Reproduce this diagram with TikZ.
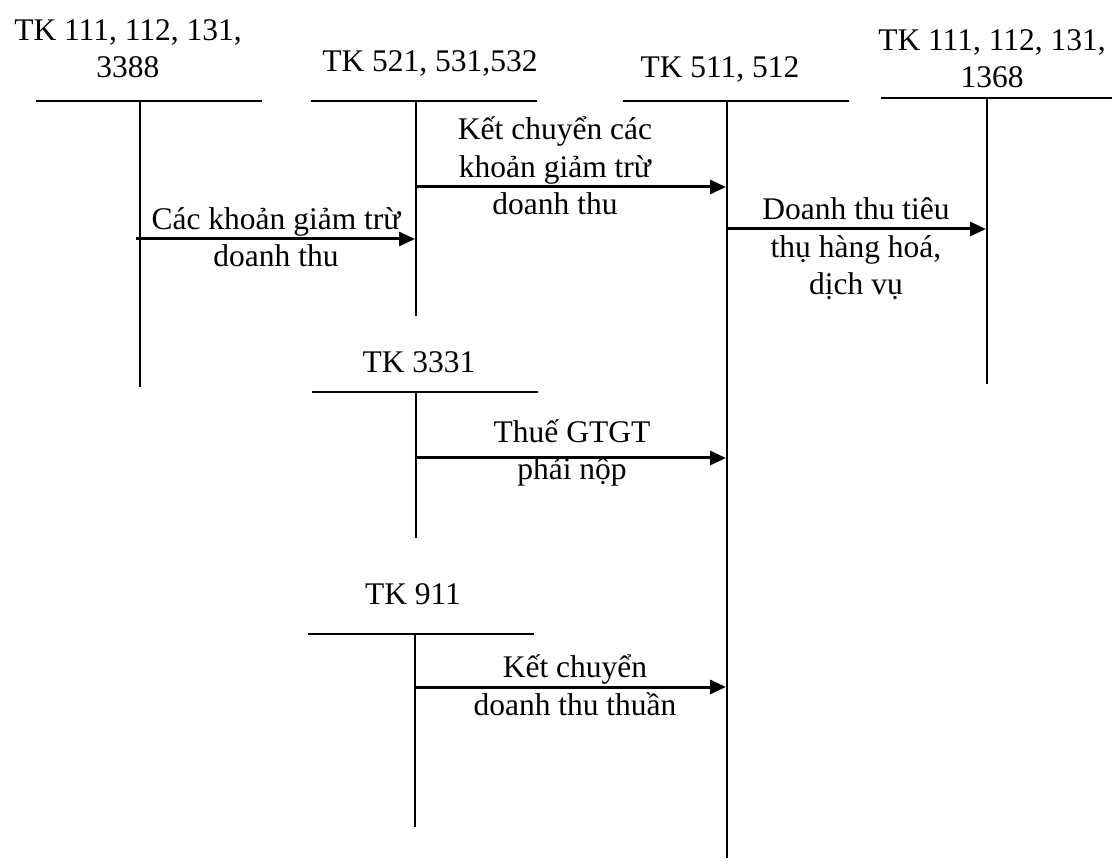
\documentclass[tikz,border=0pt]{standalone}
\usepackage{fontspec}
\setmainfont{Liberation Serif}
\usetikzlibrary{arrows.meta}
\begin{document}
\begin{tikzpicture}[x=1pt,y=-1pt,font=\fontsize{31.5}{37.5}\selectfont,line join=round,
	tk/.style={line width=1.8pt},
	mui/.style={line width=3pt,-{Triangle[length=16pt,width=14pt]}},
	nhan/.style={align=center,anchor=base,inner sep=0pt}]
	\useasboundingbox (0,0) rectangle (1112,866);
	% tai khoan chu T: ten/trai/phai/doc/tren/duoi
	\foreach \n/\l/\r/\v/\t/\d in {a/36/262/140/101/387,b/311/537/416/101/316,c/623/849/727/101/858,d/881/1112/987/98/384,e/312/538/416/392/538,f/308/534/415/634/827}{
		\coordinate (\n top) at (\v,\t);
		\coordinate (\n bot) at (\v,\d);
		\draw[tk] (\l,\t) -- (\r,\t);
		\draw[tk] (\n top) -- (\n bot);
	}
	\node[nhan] (ta) at (128,78) {TK 111, 112, 131,\\3388};
	\node[nhan] (tb) at (430,72) {TK 521, 531,532};
	\node[nhan] (tc) at (720,78) {TK 511, 512};
	\node[nhan] (td) at (992,88) {TK 111, 112, 131,\\1368};
	\node[nhan] (te) at (419,373) {TK 3331};
	\node[nhan] (tf) at (413,605) {TK 911};
	% diem dau, diem cuoi cac mui ten
	\coordinate (a1) at (136,239); \coordinate (b1) at (415,239);
	\coordinate (b2) at (416,187); \coordinate (c2) at (726,187);
	\coordinate (c3) at (727,229); \coordinate (d3) at (986,229);
	\coordinate (e4) at (416,458); \coordinate (c4) at (726,458);
	\coordinate (f5) at (415,687); \coordinate (c5) at (726,687);
	\draw[mui] (a1) -- (b1);
	\draw[mui] (b2) -- (c2);
	\draw[mui] (c3) -- (d3);
	\draw[mui] (e4) -- (c4);
	\draw[mui] (f5) -- (c5);
	\node[nhan] (n1) at (276,267) {Các khoản giảm trừ\\doanh thu};
	\node[nhan] (n2) at (555,215) {Kết chuyển các\\khoản giảm trừ\\doanh thu};
	\node[nhan] (n3) at (856,295) {Doanh thu tiêu\\thụ hàng hoá,\\dịch vụ};
	\node[nhan] (n4) at (572,480) {Thuế GTGT\\phải nộp};
	\node[nhan] (n5) at (575,715) {Kết chuyển\\doanh thu thuần};
\end{tikzpicture}
\end{document}
